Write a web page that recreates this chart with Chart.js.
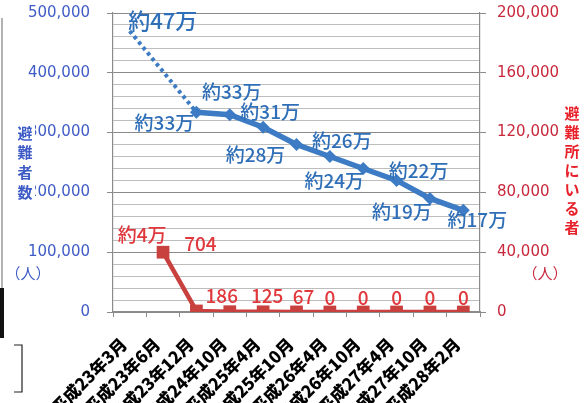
<!DOCTYPE html>
<html><head><meta charset="utf-8">
<script src="https://cdn.jsdelivr.net/npm/chart.js@4/dist/chart.umd.min.js"></script>
<style>html,body{margin:0;padding:0;background:#fff;overflow:hidden}#wrap{width:585px;height:403px;position:relative}</style>
</head><body><div id="wrap"><canvas id="c" width="585" height="403"></canvas></div>
<script>
const categories = ['平成23年3月','平成23年6月','平成23年12月','平成24年10月','平成25年4月','平成25年10月','平成26年4月','平成26年10月','平成27年4月','平成27年10月','平成28年2月'];
const evacuees = [470000, null, 334000, 330000, 309000, 280000, 260000, 240000, 220000, 190000, 170000];
const evacueeLabels = ['約47万', '', '約33万', '約33万', '約31万', '約28万', '約26万', '約24万', '約22万', '約19万', '約17万'];
const shelterResidents = [null, 40000, 704, 186, 125, 67, 0, 0, 0, 0, 0];
const shelterLabels = ['', '約4万', '704', '186', '125', '67', '0', '0', '0', '0', '0'];
const leftTickValues = [0, 100000, 200000, 300000, 400000, 500000];
const rightTickValues = [0, 40000, 80000, 120000, 160000, 200000];
const leftTitle = '避難者数';
const rightTitle = '避難所にいる者';
const unitLabel = '（人）';

const BLUE = '#3d7cc4', BLUE_TXT = '#2f6fb8', AX_BLUE = '#3f5cc6';
const RED = '#c9413f', RED_TXT = '#e0383c', AX_RED = '#c8283c';
const fmt = v => v.toLocaleString('en-US');

const labelPlugin = {
  id: 'pointLabels',
  afterDatasetsDraw(chart, args, opts) {
    const ctx = chart.ctx;
    opts.sets.forEach(s => {
      const meta = chart.getDatasetMeta(s.index);
      ctx.save();
      ctx.fillStyle = s.color;
      ctx.textAlign = 'center';
      ctx.textBaseline = 'middle';
      s.texts.forEach((t, i) => {
        if (!t) return;
        const el = meta.data[i];
        if (!el) return;
        const o = s.offsets[i];
        ctx.font = '500 ' + (o[2] || 19) + 'px "Noto Sans CJK JP"';
        ctx.fillText(t, el.x + o[0], el.y + o[1]);
      });
      ctx.restore();
    });
  }
};

const titlePlugin = {
  id: 'sideTitles',
  afterDraw(chart) {
    const ctx = chart.ctx;
    ctx.save();
    ctx.fillStyle = '#fff';
    ctx.fillRect(14, 122, 21, 80);
    ctx.font = 'bold 15px "Noto Sans CJK JP"';
    ctx.fillStyle = AX_BLUE;
    ctx.textAlign = 'center';
    ctx.textBaseline = 'middle';
    [...leftTitle].forEach((ch, i) => ctx.fillText(ch, 25, 133 + i * 19.7));
    ctx.font = '15px "Noto Sans CJK JP"';
    ctx.fillText(unitLabel, 28, 273);
    ctx.fillStyle = '#e8202a';
    ctx.font = 'bold 15px "Noto Sans CJK JP"';
    [...rightTitle].forEach((ch, i) => ctx.fillText(ch, 572, 113 + i * 19.0));
    ctx.fillStyle = AX_RED;
    ctx.font = '15px "Noto Sans CJK JP"';
    ctx.fillText(unitLabel, 545, 273);
    ctx.strokeStyle = '#9a9a9a'; ctx.lineWidth = 1.5;
    ctx.beginPath(); ctx.moveTo(2, 18); ctx.lineTo(2, 288); ctx.stroke();
    ctx.fillStyle = '#111'; ctx.fillRect(0, 288, 4, 50);
    ctx.strokeStyle = '#222'; ctx.lineWidth = 1.2;
    ctx.beginPath(); ctx.moveTo(14, 345); ctx.lineTo(22, 345); ctx.lineTo(22, 392); ctx.lineTo(14, 392); ctx.stroke();
    ctx.restore();
  }
};

const gapSeg = c => evacuees[c.p0DataIndex] === null || evacuees[c.p1DataIndex] === null;
const fitV = w => s => { s.width = w; s.paddingTop = 0; s.paddingBottom = 0; };

new Chart(document.getElementById('c'), {
  type: 'line',
  data: {
    labels: categories,
    datasets: [
      {
        label: '避難者数',
        data: evacuees,
        yAxisID: 'y',
        borderColor: BLUE,
        backgroundColor: BLUE,
        borderWidth: 5.5,
        pointStyle: 'rectRot',
        pointRadius: evacuees.map((v, i) => i === 0 ? 0 : 6.5),
        pointBorderWidth: 0,
        spanGaps: true,
        tension: 0,
        segment: {
          borderDash: c => (gapSeg(c) ? [3.5, 3.5] : undefined),
          borderWidth: c => (gapSeg(c) ? 4 : undefined)
        }
      },
      {
        label: '避難所にいる者',
        data: shelterResidents,
        yAxisID: 'y1',
        borderColor: RED,
        backgroundColor: RED,
        borderWidth: 4.5,
        pointStyle: 'rect',
        pointRadius: 9,
        pointBorderWidth: 0,
        tension: 0
      }
    ]
  },
  options: {
    responsive: false,
    animation: false,
    devicePixelRatio: 1,
    layout: { padding: { top: 13, left: 0, right: 0, bottom: 0 } },
    plugins: {
      legend: { display: false },
      tooltip: { enabled: false },
      pointLabels: {
        sets: [
          { index: 0, color: BLUE_TXT, texts: evacueeLabels,
            offsets: [[33,-10,22],[0,0],[-32,11],[2,-23],[7,-15],[-41,10],[12,-16],[-29,12],[22,-10],[-28,13],[14,9]] },
          { index: 1, color: RED_TXT, texts: shelterLabels,
            offsets: [[0,0],[-21,-17],[4,-67],[-8,-16],[4,-16],[7,-15],[0,-14],[0,-14],[0,-14],[0,-14],[0,-14]] }
        ]
      }
    },
    scales: {
      x: {
        offset: true,
        grid: { offset: true, drawOnChartArea: false, tickLength: 5, color: '#8c8c8c' },
        border: { color: '#8c8c8c', width: 1.2 },
        ticks: {
          autoSkip: false, minRotation: 45, maxRotation: 45, padding: 17, labelOffset: -6,
          color: '#000', font: { family: '"Noto Sans CJK JP"', size: 17, weight: '900' }
        },
        afterFit: s => { s.height = 91; s.paddingLeft = 0; s.paddingRight = 0; }
      },
      y: {
        position: 'left',
        min: 0, max: 500000,
        grid: {
          tickLength: 6,
          color: c => (leftTickValues.includes(c.tick.value) ? '#8a8a8a' : '#bdbdbd'),
          tickColor: c => (leftTickValues.includes(c.tick.value) ? '#8a8a8a' : 'rgba(0,0,0,0)')
        },
        border: { color: '#8c8c8c', width: 1.2 },
        ticks: {
          stepSize: 20000, autoSkip: false, padding: 17,
          color: AX_BLUE, font: { family: '"DejaVu Sans"', size: 15 },
          callback: v => (leftTickValues.includes(v) ? fmt(v) : '')
        },
        afterFit: fitV(113)
      },
      y1: {
        position: 'right',
        min: 0, max: 200000,
        grid: {
          drawOnChartArea: false, tickLength: 6,
          tickColor: c => (rightTickValues.includes(c.tick.value) ? '#8a8a8a' : 'rgba(0,0,0,0)')
        },
        border: { color: '#8c8c8c', width: 1.2 },
        ticks: {
          stepSize: 8000, autoSkip: false, padding: 11,
          color: AX_RED, font: { family: '"DejaVu Sans"', size: 15 },
          callback: v => (rightTickValues.includes(v) ? fmt(v) : '')
        },
        afterFit: fitV(105)
      }
    }
  },
  plugins: [labelPlugin, titlePlugin]
});
</script>
</body></html>
